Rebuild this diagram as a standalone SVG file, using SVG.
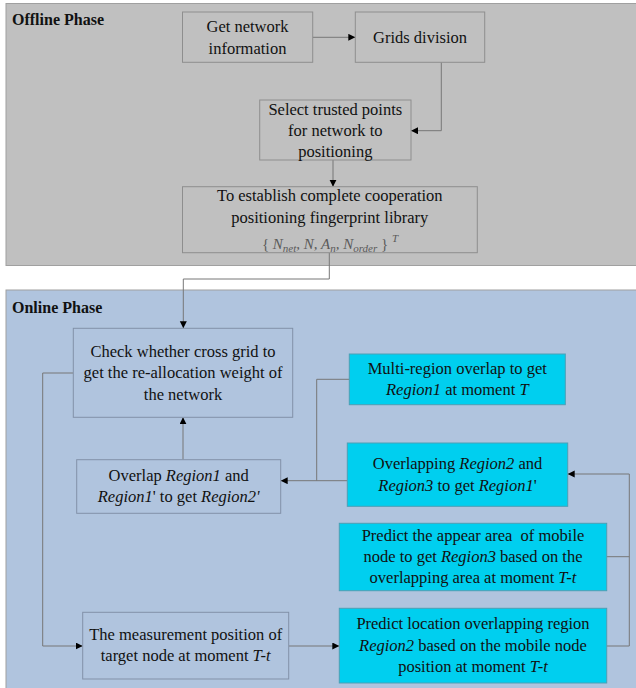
<svg xmlns="http://www.w3.org/2000/svg" width="636" height="688" viewBox="0 0 636 688">
<defs>
<marker id="arr" markerUnits="userSpaceOnUse" markerWidth="8" markerHeight="8" refX="7" refY="3.5" orient="auto">
<path d="M0,0 L7,3.5 L0,7 z" fill="#000"/>
</marker>
<style>
text{font-family:"Liberation Serif","Times New Roman",serif;font-size:16.5px;fill:#111;text-anchor:middle}
.ph{font-weight:bold;text-anchor:start;font-size:16px}
.i{font-style:italic}
.gb{fill:#c0c0c0;stroke:#8e8e8e;stroke-width:1}
.bb{fill:#b0c4de;stroke:#8291a8;stroke-width:1}
.cb{fill:#00cfef;stroke:#4d9fb5;stroke-width:1}
.c{fill:none;stroke:#777;stroke-width:1}
.ca{fill:none;stroke:#777;stroke-width:1;marker-end:url(#arr)}
.f{font-size:15px;fill:#5a5a5a;font-style:italic}
</style>
</defs>
<g id="offline-panel">
<rect x="6" y="3.5" width="640" height="262" fill="#c0c0c0" stroke="#a0a0a0"/>
<text class="ph" x="12" y="25">Offline Phase</text>
</g>
<g id="online-panel">
<rect x="6" y="290" width="640" height="410" fill="#b0c4de" stroke="#a0a0a0"/>
<text class="ph" x="12" y="313">Online Phase</text>
</g>
<g id="connectors">
<path class="ca" d="M312.7,37.3 H355.3"/>
<path class="ca" d="M441.3,62.3 V130.7 H411"/>
<path class="ca" d="M333,160 V186.7"/>
<path class="ca" d="M329.3,252.7 V279 H183.3 V328.3"/>
<path class="ca" d="M183,459.7 V417.3"/>
<path class="c" d="M349.3,379.3 H316.7 V480.7"/>
<path class="ca" d="M347.3,480.7 H280.7"/>
<path class="ca" d="M73.3,373 H42.7 V646 H82.7"/>
<path class="ca" d="M288.7,646 H339.3"/>
<path class="ca" d="M606.7,646 H629.3 V474 H567.7"/>
<path class="c" d="M606.7,556.7 H629.3"/>
</g>
<g id="get-network">
<rect class="gb" x="182.5" y="12" width="130.2" height="50.3"/>
<text x="247.5" y="32">Get network</text>
<text x="247.5" y="53.5">information</text>
</g>
<g id="grids-division">
<rect class="gb" x="355.3" y="12" width="129.4" height="50.3"/>
<text x="420" y="42.7">Grids division</text>
</g>
<g id="select-trusted">
<rect class="gb" x="259.7" y="100" width="151.3" height="60"/>
<text x="335.3" y="114.5">Select trusted points</text>
<text x="335.3" y="135.5">for network to</text>
<text x="335.3" y="156.5">positioning</text>
</g>
<g id="establish-library">
<rect class="gb" x="182.5" y="186.7" width="294.8" height="66"/>
<text x="329.8" y="200.5">To establish complete cooperation</text>
<text x="329.8" y="222.5">positioning fingerprint library</text>
<text class="f" x="330" y="248.5"><tspan font-style="normal">{ </tspan> N<tspan font-size="11" dy="3">net</tspan><tspan dy="-3">, N, A</tspan><tspan font-size="11" dy="3">n</tspan><tspan dy="-3">, N</tspan><tspan font-size="11" dy="3">order</tspan><tspan dy="-3" font-style="normal">  } </tspan><tspan font-size="11" dy="-7">T</tspan></text>
</g>
<g id="check-cross-grid">
<rect class="bb" x="73.3" y="328.3" width="219.4" height="89"/>
<text x="183" y="356.5">Check whether cross grid to</text>
<text x="183" y="378">get the re-allocation weight of</text>
<text x="183" y="399.5">the network</text>
</g>
<g id="multi-region">
<rect class="cb" x="349.3" y="354" width="216" height="50.7"/>
<text x="457.3" y="374">Multi-region overlap to get</text>
<text x="457.3" y="395"><tspan class="i">Region1</tspan> at moment <tspan class="i">T</tspan></text>
</g>
<g id="overlap-region1">
<rect class="bb" x="76.7" y="459.7" width="204" height="53.6"/>
<text x="178.7" y="481">Overlap <tspan class="i">Region1</tspan> and</text>
<text x="178.7" y="502"><tspan class="i">Region1</tspan>' to get <tspan class="i">Region2'</tspan></text>
</g>
<g id="overlapping-region2">
<rect class="cb" x="347.3" y="443" width="220.4" height="63.3"/>
<text x="457.5" y="469">Overlapping <tspan class="i">Region2</tspan> and</text>
<text x="457.5" y="490.5"><tspan class="i">Region3</tspan> to get <tspan class="i">Region1</tspan>'</text>
</g>
<g id="predict-appear">
<rect class="cb" x="339.3" y="523.3" width="267.4" height="67.4"/>
<text x="473" y="540.5">Predict the appear area&#160; of mobile</text>
<text x="473" y="561.8">node to get <tspan class="i">Region3</tspan> based on the</text>
<text x="473" y="583.3">overlapping area at moment <tspan class="i">T-t</tspan></text>
</g>
<g id="predict-location">
<rect class="cb" x="339.3" y="608.3" width="267.4" height="74.7"/>
<text x="473" y="629">Predict location overlapping region</text>
<text x="473" y="650.5"><tspan class="i">Region2</tspan> based on the mobile node</text>
<text x="473" y="672">position at moment <tspan class="i">T-t</tspan></text>
</g>
<g id="measurement">
<rect class="bb" x="82.7" y="612.3" width="206" height="66.7"/>
<text x="185.7" y="639.5">The measurement position of</text>
<text x="185.7" y="661">target node at moment <tspan class="i">T-t</tspan></text>
</g>
</svg>
